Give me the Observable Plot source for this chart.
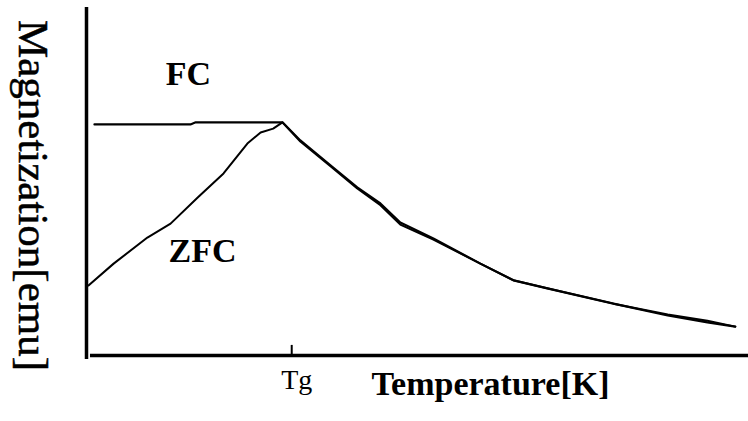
<!DOCTYPE html>
<html>
<head>
<meta charset="utf-8">
<script src="https://cdn.jsdelivr.net/npm/d3@7"></script>
<script src="https://cdn.jsdelivr.net/npm/@observablehq/plot@0.6"></script>
<style>
  html, body { margin: 0; padding: 0; background: #fff; }
  #chart svg { display: block; }
</style>
</head>
<body>
<div id="chart"></div>
<script>
// Field-cooled (FC) and zero-field-cooled (ZFC) magnetization vs temperature
// (arbitrary units; the glass temperature Tg is the only marked tick)
const fcTemp = [1.2, 15.7, 16.5, 29.6, 32.3, 36.9, 40.9, 44.4, 47.4, 52.4, 59.5, 64.5, 69.6, 79.6, 87.8, 93.8, 98.0];
const fcMag  = [66.4, 66.4, 67.0, 67.0, 61.8, 54.6, 48.3, 43.7, 38.2, 33.6, 26.4, 21.6, 19.3, 14.9, 11.5, 9.5, 8.3];

const zfcTemp = [0.3, 4.1, 9.2, 12.7, 16.8, 20.7, 24.3, 26.3, 28.2, 29.6, 32.3, 36.9, 40.9, 44.4, 47.4, 52.4, 59.5, 64.5, 69.6, 79.6, 87.8, 93.8, 98.0];
const zfcMag  = [20.1, 26.4, 33.9, 37.9, 45.4, 52.3, 60.9, 64.1, 65.2, 67.0, 61.5, 54.3, 48.0, 43.2, 37.6, 33.3, 26.4, 21.6, 19.3, 14.9, 11.8, 10.0, 8.3];

const tgTemp = 31.0;
const tickLabels = ["Tg"];
const seriesLabels = ["FC", "ZFC"];

const fc = fcTemp.map((t, i) => ({t, m: fcMag[i]}));
const zfc = zfcTemp.map((t, i) => ({t, m: zfcMag[i]}));

const serif = "'Liberation Serif', 'Times New Roman', serif";

const chart = Plot.plot({
  width: 748,
  height: 421,
  marginLeft: 86,
  marginRight: 0,
  marginTop: 7,
  marginBottom: 66,
  x: {domain: [0, 100], axis: null},
  y: {domain: [0, 100], axis: null},
  style: {fontFamily: serif, background: "#fff", color: "#000"},
  marks: [
    // axes
    Plot.ruleX([0], {y1: -1.15, y2: 100, stroke: "#000", strokeWidth: 3.5}),
    Plot.ruleY([0], {x1: 0.6, x2: 100, stroke: "#000", strokeWidth: 3.5}),
    Plot.ruleX([tgTemp], {y1: 0, y2: 2.9, stroke: "#000", strokeWidth: 2}),
    Plot.text([tgTemp], {
      x: d => d, frameAnchor: "bottom", dy: 25, dx: 5, text: () => tickLabels[0],
      fontSize: 28, fill: "#000", lineAnchor: "middle"
    }),
    // curves
    Plot.line(fc, {x: "t", y: "m", stroke: "#000", strokeWidth: 2.2}),
    Plot.line(zfc, {x: "t", y: "m", stroke: "#000", strokeWidth: 2}),
    // series labels
    Plot.text([seriesLabels[0]], {
      frameAnchor: "top-left", dx: 188 - 86, dy: 74 - 7, text: d => d,
      fontSize: 34, fontWeight: "bold", fill: "#000", lineAnchor: "middle", textAnchor: "middle"
    }),
    Plot.text([seriesLabels[1]], {
      frameAnchor: "top-left", dx: 202 - 86, dy: 251 - 7, text: d => d,
      fontSize: 34, fontWeight: "bold", fill: "#000", lineAnchor: "middle", textAnchor: "middle"
    }),
    // axis titles
    Plot.text(["Temperature[K]"], {
      frameAnchor: "bottom-left", dx: 490 - 86, dy: 384 - 355, text: d => d,
      fontSize: 34, fontWeight: "bold", fill: "#000", lineAnchor: "middle", textAnchor: "middle"
    }),
    Plot.text(["Magnetization[emu]"], {
      frameAnchor: "left", dx: 32 - 86, dy: 195 - 181, text: d => d, rotate: 90,
      fontSize: 43, fill: "#000", stroke: "#000", strokeWidth: 0.5,
      lineAnchor: "middle", textAnchor: "middle"
    })
  ]
});

document.getElementById("chart").appendChild(chart);
</script>
</body>
</html>
